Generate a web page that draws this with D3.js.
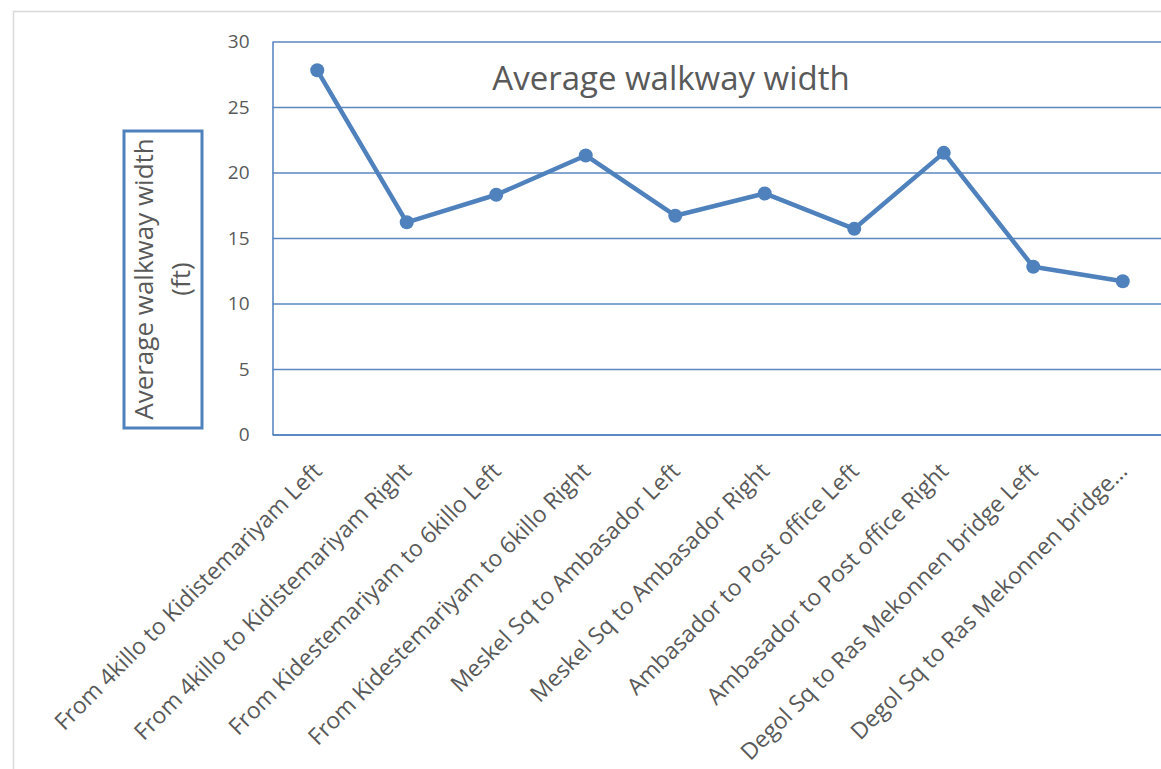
<!DOCTYPE html>
<html>
<head>
<meta charset="utf-8">
<script src="https://cdn.jsdelivr.net/npm/d3@7"></script>
<style>
  html, body { margin: 0; padding: 0; background: #fff; }
  svg { display: block; font-family: "Open Sans", sans-serif; }
</style>
</head>
<body>
<svg id="chart" width="1161" height="769"></svg>
<script>
// Walkway segments along the route and their measured average widths (ft)
const categories = [
  "From 4killo to Kidistemariyam Left",
  "From 4killo to Kidistemariyam Right",
  "From Kidestemariyam to 6killo Left",
  "From Kidestemariyam to 6killo Right",
  "Meskel Sq to Ambasador Left",
  "Meskel Sq to Ambasador Right",
  "Ambasador to Post office Left",
  "Ambasador to Post office Right",
  "Degol Sq to Ras Mekonnen bridge Left",
  "Degol Sq to Ras Mekonnen bridge\u2026"
];
const widths = [27.8, 16.2, 18.3, 21.3, 16.7, 18.4, 15.7, 21.5, 12.8, 11.7];
const yTicks = [0, 5, 10, 15, 20, 25, 30];
const chartTitle = "Average walkway width";
const yTitleLines = ["Average walkway width", "(ft)"];

const blue = "#4f81bd";
const textGrey = "#595959";

const svg = d3.select("#chart");

// outer chart-area frame
svg.append("rect")
  .attr("x", 13.5).attr("y", 11.5)
  .attr("width", 1300).attr("height", 900)
  .attr("fill", "none")
  .attr("stroke", "#d9d9d9")
  .attr("stroke-width", 1.5);

const plot = { left: 272.5, right: 1167.5, top: 41.5, bottom: 434.5 };

const x = d3.scaleBand().domain(categories).range([plot.left, plot.right]);
const y = d3.scaleLinear().domain([0, 30]).range([plot.bottom, plot.top]);
const cx = d => x(d) + x.bandwidth() / 2;

// value axis with horizontal gridlines
const yAxis = svg.append("g")
  .attr("transform", `translate(${plot.left},0)`)
  .call(d3.axisLeft(y)
    .tickValues(yTicks)
    .tickSize(-(plot.right - plot.left))
    .tickSizeOuter(0)
    .tickPadding(23));
yAxis.select(".domain").attr("stroke", blue).attr("stroke-width", 1.5);
yAxis.selectAll(".tick line").attr("stroke", "#5b87c0").attr("stroke-width", 1.5);
yAxis.selectAll(".tick text")
  .attr("fill", textGrey)
  .style("font-size", "19px")
  .style("font-family", "'Open Sans', sans-serif");

// category axis with slanted labels
const xAxis = svg.append("g")
  .attr("transform", `translate(0,${plot.bottom})`)
  .call(d3.axisBottom(x).tickSize(0).tickSizeOuter(0));
xAxis.select(".domain").attr("stroke", blue).attr("stroke-width", 1.5);
xAxis.selectAll(".tick text")
  .attr("fill", textGrey)
  .attr("x", 0).attr("y", 0).attr("dy", 0)
  .attr("text-anchor", "end")
  .attr("transform", "translate(6,38) rotate(-45)")
  .style("font-size", "23px")
  .style("font-family", "'Open Sans', sans-serif");

// series line and markers
const line = d3.line()
  .x((d, i) => cx(categories[i]))
  .y(d => y(d));

svg.append("path")
  .datum(widths)
  .attr("d", line)
  .attr("fill", "none")
  .attr("stroke", blue)
  .attr("stroke-width", 4.5)
  .attr("stroke-linejoin", "round");

svg.append("g")
  .selectAll("circle")
  .data(widths)
  .join("circle")
  .attr("cx", (d, i) => cx(categories[i]))
  .attr("cy", d => y(d))
  .attr("r", 7)
  .attr("fill", blue);

// chart title
svg.append("text")
  .attr("x", 671)
  .attr("y", 90)
  .attr("text-anchor", "middle")
  .attr("fill", textGrey)
  .style("font-size", "33px")
  .text(chartTitle);

// boxed vertical axis title
svg.append("rect")
  .attr("x", 124).attr("y", 131)
  .attr("width", 78).attr("height", 297)
  .attr("fill", "none")
  .attr("stroke", blue)
  .attr("stroke-width", 3);

const yTitle = svg.append("text")
  .attr("transform", "translate(153,279) rotate(-90)")
  .attr("text-anchor", "middle")
  .attr("fill", textGrey)
  .style("font-size", "26px");
yTitle.selectAll("tspan")
  .data(yTitleLines)
  .join("tspan")
  .attr("x", 0)
  .attr("y", (d, i) => i * 37)
  .text(d => d);
</script>
</body>
</html>
